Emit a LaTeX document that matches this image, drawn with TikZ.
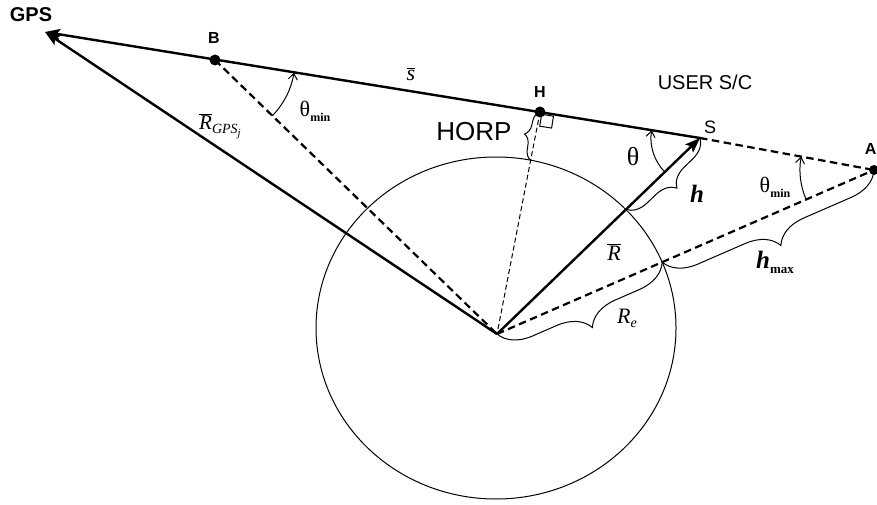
\documentclass[tikz,border=0pt]{standalone}
\usepackage{fontspec}
\setmainfont{Liberation Serif}
\newfontfamily\arial{Liberation Sans}
\usetikzlibrary{arrows.meta,decorations.pathreplacing,calc,intersections,angles}
\newcommand\fs[1]{\fontsize{#1}{#1}\selectfont}
\begin{document}
\begin{tikzpicture}[x=1pt,y=1pt,
  vec/.style={line width=2.4pt,-{Stealth[length=15pt,width=11pt,inset=3pt]}},
  thickdash/.style={line width=2.2pt,dash pattern=on 7.5pt off 4.5pt},
  thindash/.style={line width=1pt,dash pattern=on 5pt off 3pt},
  earth/.style={line width=1pt},
  brace/.style={decorate,decoration={brace,amplitude=#1},line width=1pt},
  anglearc/.style={draw,line width=1pt,angle radius=#1},
  lab/.style={inner sep=0pt},
  dot/.style={circle,fill=black,inner sep=0pt,minimum size=11pt}]
\useasboundingbox (0,0) rectangle (877,504);
% points
\coordinate (G) at (45,472);
\coordinate (O) at (497,170);
\coordinate (C) at (496,176);
\node[dot] (B) at (215,444) {};
\node[dot] (H) at (540,392) {};
\coordinate (S) at (700,366);
\node[dot,minimum size=10pt] (A) at (874,334) {};
% earth
\draw[earth,name path=earth] (C) ellipse [x radius=180pt,y radius=171pt];
% lines
\path[name path=OS] (O) -- (S);
\path[name path=OA] (O) -- (A.center);
\path[name path=OH] (O) -- (H.center);
\path[name intersections={of=earth and OS}] coordinate (P1) at (intersection-1);
\path[name intersections={of=earth and OA}] coordinate (P2) at (intersection-1);
\path[name intersections={of=earth and OH}] coordinate (P3) at (intersection-1);
\draw[thickdash] (B.center) -- (O);
\draw[thickdash] (O) -- (A.center);
\draw[thickdash] (S) -- (A.center);
\draw[thindash] (H.center) -- (O);
\draw[vec] (O) -- (G);
\draw[vec] (S) -- (G);
\draw[vec] (O) -- (S);
% right angle mark
\draw[line width=1pt,shift={(H.center)},rotate=-9.2] (2,-2) rectangle (14,-14);
% angle arcs
\pic[anglearc=80pt,-{Straight Barb[length=6pt,width=9pt]}] {angle=O--B--S};
\pic[anglearc=49pt,{Straight Barb[length=6pt,width=9pt]}-] {angle=B--S--O};
\pic[anglearc=74pt,{Straight Barb[length=6pt,width=9pt]}-] {angle=S--A--O};
% braces
\draw[brace=20pt] (S) -- (P1);
\draw[brace=32pt] (A.center) -- (P2);
\draw[brace=32pt] (P2) -- (O);
\draw[brace=11pt] (P3) -- (H.center);
% labels
\node[lab,font=\arial\bfseries\fs{20}] (tGPS) at (31,489.5) {GPS};
\node[lab,font=\arial\bfseries\fs{16}] (tB) at (214,466) {B};
\node[lab,font=\arial\bfseries\fs{16}] (tH) at (540,412) {H};
\node[lab,font=\arial\fs{18}] (tS) at (710,377) {S};
\node[lab,font=\arial\fs{20}] (tUSER) at (705,422) {USER S/C};
\node[lab,font=\arial\bfseries\fs{16},anchor=east] (tA) at (876.5,355) {A};
\node[lab,font=\arial\fs{26}] (tHORP) at (474,372) {HORP};
\node[lab,font=\fs{22}] (tsbar) at (411,430) {$\overline{\mbox{\itshape s}}$};
\node[lab,font=\fs{21}] (tRGPS) at (220,378) {$\overline{\mbox{\itshape R}}$\raisebox{-4pt}{\fs{14}\itshape GPS\raisebox{-3pt}{\fs{11}j}}};
\node[lab,font=\fs{22}] (tthB) at (315,393) {θ\raisebox{-5pt}{\fs{12}\bfseries min}};
\node[lab,font=\fs{26}] (tth) at (633,347) {θ};
\node[lab,font=\fs{25}\bfseries\itshape] (th) at (697,310) {h};
\node[lab,font=\fs{22}] (tthA) at (775,317) {θ\raisebox{-5pt}{\fs{12}\bfseries min}};
\node[lab,font=\fs{25}] (thmax) at (775,242) {\textbf{\itshape h}\raisebox{-5pt}{\fs{13}\bfseries max}};
\node[lab,font=\fs{22}] (tR) at (614,252) {$\overline{\mbox{\itshape R}}$};
\node[lab,font=\fs{22}] (tRe) at (627,186) {\itshape R\raisebox{-4pt}{\fs{14}e}};
\end{tikzpicture}
\end{document}
